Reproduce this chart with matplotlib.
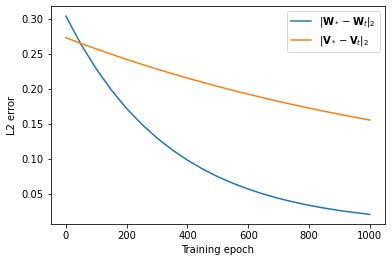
import matplotlib
matplotlib.use("Agg")
import matplotlib.pyplot as plt

epochs = [0, 50, 100, 150, 200, 250, 300, 350, 400, 450, 500,
          550, 600, 650, 700, 750, 800, 850, 900, 950, 1000]
w_err = [0.3035, 0.2632, 0.2284, 0.1982, 0.1721, 0.1496, 0.1301, 0.1132, 0.0986, 0.0860, 0.0750,
         0.0656, 0.0574, 0.0503, 0.0442, 0.0389, 0.0343, 0.0304, 0.0269, 0.0240, 0.0214]
v_err = [0.2729, 0.2647, 0.2569, 0.2493, 0.2420, 0.2350, 0.2282, 0.2217, 0.2154, 0.2094, 0.2035,
         0.1979, 0.1925, 0.1873, 0.1822, 0.1774, 0.1727, 0.1682, 0.1639, 0.1597, 0.1557]
labels = [r"$|\mathbf{W}_* - \mathbf{W}_t|_2$", r"$|\mathbf{V}_* - \mathbf{V}_t|_2$"]

fig = plt.figure(figsize=(392/72, 262/72), dpi=72)
ax = fig.add_axes([0.1293, 0.1439, 0.9821-0.1293, 0.976-0.1439])
ax.plot(epochs, w_err, color="#1f77b4", label=labels[0])
ax.plot(epochs, v_err, color="#ff7f0e", label=labels[1])
ax.set_xlabel("Training epoch")
ax.set_ylabel("L2 error")
ax.set_xticks([0, 200, 400, 600, 800, 1000])
ax.set_yticks([0.05, 0.10, 0.15, 0.20, 0.25, 0.30])
ax.legend(loc="upper right")
fig.savefig("out.png", dpi=72)
